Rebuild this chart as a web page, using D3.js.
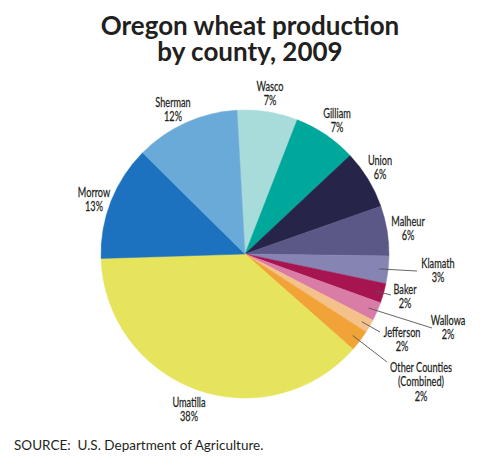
<!DOCTYPE html>
<html>
<head>
<meta charset="utf-8">
<script src="https://cdn.jsdelivr.net/npm/d3@7"></script>
<style>
  body { margin: 0; background: #fff; }
  .lbl { font-family: Lato, sans-serif; font-size: 13.5px; fill: #231f20; stroke: #231f20; stroke-width: 0.25px; }
</style>
</head>
<body>
<svg id="chart" width="500" height="461"></svg>
<script>
// counties in clockwise order from the top
var counties = ['Wasco', 'Gilliam', 'Union', 'Malheur', 'Klamath', 'Baker',
  'Wallowa', 'Jefferson', 'Other Counties (Combined)', 'Umatilla', 'Morrow', 'Sherman'];
var shares = [6.8, 7.1, 6.6, 5.6, 3.1, 2.2, 2.1, 1.5, 2.4, 38.0, 12.9, 11.7];
var pctLabels = ['7%', '7%', '6%', '6%', '3%', '2%', '2%', '2%', '2%', '38%', '13%', '12%'];
var colors = ['#a8dcdb', '#00a89c', '#262449', '#5b5786', '#8584b3', '#a6154f',
  '#d97ca6', '#f5c18b', '#f2a338', '#e6e35c', '#1c72be', '#6aaad9'];

// label layout: [x, first baseline, leader end x, leader end y]
var labelPos = {
  'Wasco': [270, 91], 'Gilliam': [337, 118], 'Union': [380, 165], 'Malheur': [408, 226],
  'Klamath': [438, 268, 417, 271], 'Baker': [405, 294, 391, 295],
  'Wallowa': [448, 325, 432, 328], 'Jefferson': [402, 337, 380, 332],
  'Other Counties (Combined)': [421, 372, 387, 362],
  'Umatilla': [189, 407], 'Morrow': [94, 197], 'Sherman': [173, 107]
};

var svg = d3.select('#chart'),
    cx = 245, cy = 254, r = 144;

['Oregon wheat production', 'by county, 2009'].forEach(function (line, i) {
  svg.append('text')
    .attr('x', 250).attr('y', 35 + i * 26)
    .attr('text-anchor', 'middle')
    .style('font-family', 'Lato, sans-serif').style('font-weight', 'bold')
    .style('font-size', '26px').style('fill', '#231f20')
    .text(line);
});

var data = counties.map(function (c, i) {
  return { name: c, value: shares[i], pct: pctLabels[i], color: colors[i] };
});

var startA = -3.2 * Math.PI / 180;
var pie = d3.pie().sort(null).value(function (d) { return d.value; })
  .startAngle(startA).endAngle(startA + 2 * Math.PI);
var arcs = pie(data);

var arc = d3.arc().innerRadius(0).outerRadius(r);
var leaderArc = d3.arc().innerRadius(135).outerRadius(135);

var g = svg.append('g').attr('transform', 'translate(' + cx + ',' + cy + ')');

g.selectAll('path')
  .data(arcs)
  .enter().append('path')
  .attr('d', arc)
  .attr('fill', function (d) { return d.data.color; })
  .attr('stroke', function (d) { return d.data.color; })
  .attr('stroke-width', 0.5);

// leader lines for the thin slices
arcs.forEach(function (d) {
  var p = labelPos[d.data.name];
  if (p.length < 4) return;
  var s = leaderArc.centroid(d);
  svg.append('line')
    .attr('x1', cx + s[0]).attr('y1', cy + s[1])
    .attr('x2', p[2]).attr('y2', p[3])
    .attr('stroke', '#555').attr('stroke-width', 0.9);
});

// condensed look: squeeze the labels horizontally
arcs.forEach(function (d) {
  var p = labelPos[d.data.name];
  var lines = d.data.name === 'Other Counties (Combined)'
    ? ['Other Counties', '(Combined)', d.data.pct]
    : [d.data.name, d.data.pct];
  var t = svg.append('text').attr('class', 'lbl')
    .attr('text-anchor', 'middle')
    .attr('transform', 'translate(' + p[0] + ',' + p[1] + ') scale(0.68,1)');
  t.selectAll('tspan').data(lines).enter().append('tspan')
    .attr('x', 0).attr('dy', function (l, i) { return i ? 14.5 : 0; })
    .text(function (l) { return l; });
});

svg.append('text')
  .attr('x', 14).attr('y', 450)
  .attr('xml:space', 'preserve')
  .style('white-space', 'pre')
  .style('font-family', 'Lato, sans-serif').style('font-size', '13.5px')
  .style('fill', '#231f20')
  .text('SOURCE:  U.S. Department of Agriculture.');
</script>
</body>
</html>
